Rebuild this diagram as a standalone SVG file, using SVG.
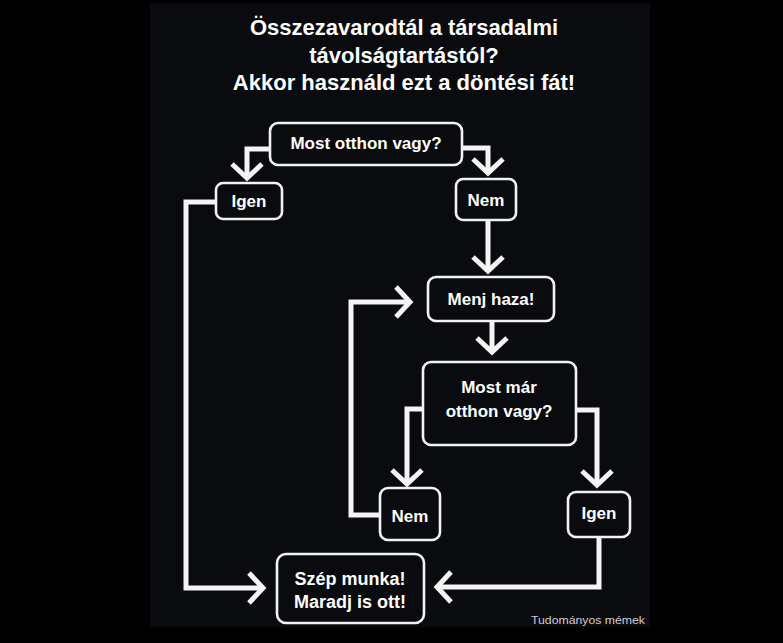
<svg xmlns="http://www.w3.org/2000/svg" width="783" height="643" viewBox="0 0 783 643">
  <style>
    .title { font-family: "Liberation Sans", Arial, sans-serif; font-weight: bold; font-size: 22px; fill: #ffffff; text-anchor: middle; }
    .box { fill: #0a0b0e; stroke: #f2f2f2; stroke-width: 2.6; }
    .lbl { font-family: "Liberation Sans", Arial, sans-serif; font-weight: bold; font-size: 17px; fill: #ffffff; text-anchor: middle; }
    .conn { fill: none; stroke: #f4f4f4; stroke-width: 5; stroke-linejoin: miter; }
    .wm { font-family: "Liberation Sans", Arial, sans-serif; font-size: 11px; fill: #cfcfcf; }
  </style>
  <defs>
    <marker id="chev" markerUnits="userSpaceOnUse" markerWidth="40" markerHeight="40" viewBox="-20 -20 40 40" refX="0" refY="0" orient="auto" overflow="visible">
      <path d="M-14,-15 L0,0 L-14,15" fill="none" stroke="#f4f4f4" stroke-width="5" stroke-linejoin="miter"/>
    </marker>
  </defs>
  <rect x="0" y="0" width="783" height="643" fill="#000000"/>
  <rect x="150" y="3" width="500" height="624" fill="#0a0b0e"/>

  <g id="title">
    <text class="title" x="404" y="35">Összezavarodtál a társadalmi</text>
    <text class="title" x="404" y="63">távolságtartástól?</text>
    <text class="title" x="404" y="90">Akkor használd ezt a döntési fát!</text>
  </g>

  <g id="connectors">
    <path class="conn" d="M270,149 H247 V178" marker-end="url(#chev)"/>
    <path class="conn" d="M462,148 H488 V173" marker-end="url(#chev)"/>
    <path class="conn" d="M488,220 V271" marker-end="url(#chev)"/>
    <path class="conn" d="M492,321 V352" marker-end="url(#chev)"/>
    <path class="conn" d="M380,515 H351 V302 H410" marker-end="url(#chev)"/>
    <path class="conn" d="M423,409 H407 V484" marker-end="url(#chev)"/>
    <path class="conn" d="M576,410 H597 V485" marker-end="url(#chev)"/>
    <path class="conn" d="M599,537 V587 H437" marker-end="url(#chev)"/>
    <path class="conn" d="M216,202 H186 V588 H263" marker-end="url(#chev)"/>
  </g>

  <g id="q1">
    <rect class="box" x="270" y="123" width="192" height="42" rx="8"/>
    <text class="lbl" x="366" y="149">Most otthon vagy?</text>
  </g>
  <g id="igen1">
    <rect class="box" x="216" y="183" width="66" height="36" rx="7"/>
    <text class="lbl" x="249" y="207">Igen</text>
  </g>
  <g id="nem1">
    <rect class="box" x="456" y="179" width="60" height="41" rx="7"/>
    <text class="lbl" x="486" y="206">Nem</text>
  </g>
  <g id="menj">
    <rect class="box" x="428" y="277" width="126" height="44" rx="8"/>
    <text class="lbl" x="491" y="305">Menj haza!</text>
  </g>
  <g id="q2">
    <rect class="box" x="423" y="362" width="153" height="83" rx="8"/>
    <text class="lbl" x="499" y="393">Most már</text>
    <text class="lbl" x="499" y="417">otthon vagy?</text>
  </g>
  <g id="nem2">
    <rect class="box" x="380" y="488" width="60" height="52" rx="8"/>
    <text class="lbl" x="410" y="522">Nem</text>
  </g>
  <g id="igen2">
    <rect class="box" x="568" y="492" width="62" height="45" rx="8"/>
    <text class="lbl" x="599" y="519">Igen</text>
  </g>
  <g id="szep">
    <rect class="box" x="277" y="554" width="147" height="69" rx="9"/>
    <text class="lbl" x="350" y="585" style="font-size:18px">Szép munka!</text>
    <text class="lbl" x="350" y="608" style="font-size:18px">Maradj is ott!</text>
  </g>

  <text class="wm" x="531" y="624" textLength="114" lengthAdjust="spacingAndGlyphs">Tudományos mémek</text>
</svg>
